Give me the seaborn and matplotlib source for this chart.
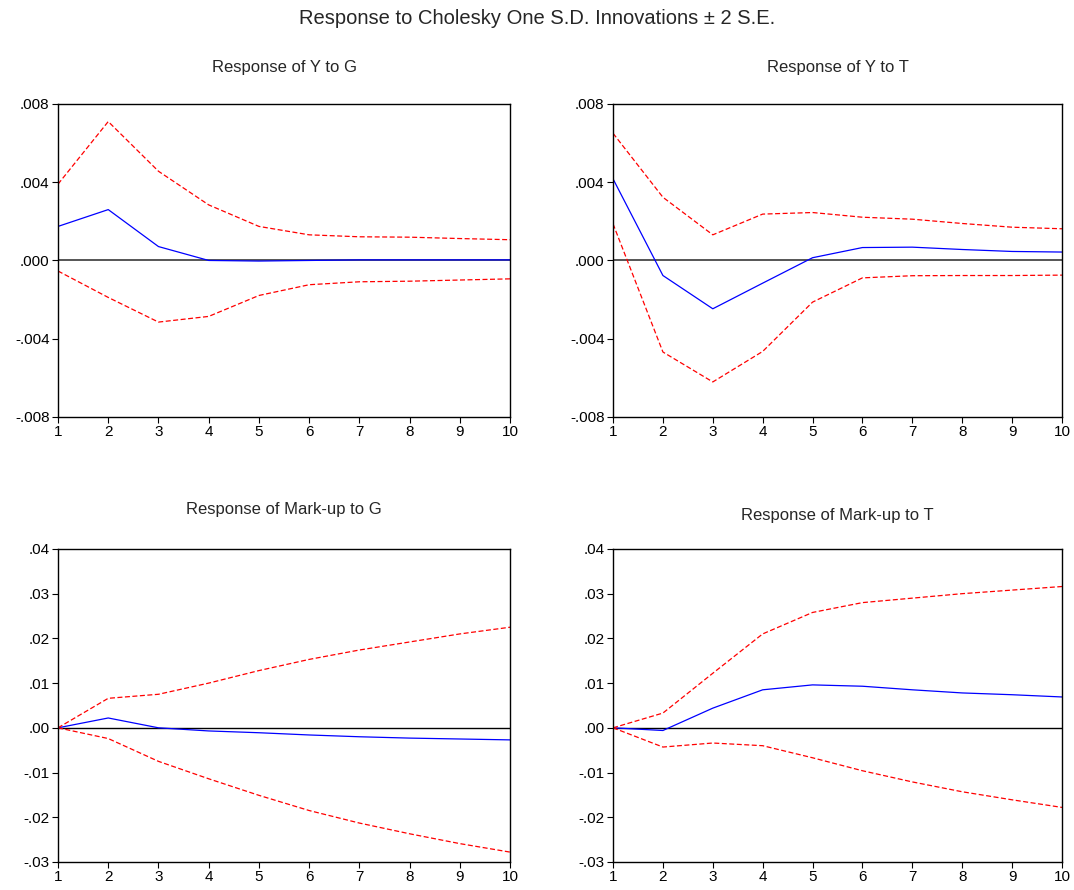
import matplotlib
matplotlib.use("Agg")
import matplotlib.pyplot as plt
from matplotlib import font_manager
from matplotlib.ticker import FuncFormatter
import pandas as pd
import seaborn as sns

# Impulse responses (periods 1..10)
periods = list(range(1, 11))

y_to_g = [0.00174, 0.0026, 0.00071, 0.0, -0.00003, 0.0, 0.00003, 0.00003, 0.00003, 0.00003]
y_to_g_upper = [0.0039, 0.0071, 0.00456, 0.00284, 0.00174, 0.00131, 0.00121, 0.00119, 0.00112, 0.00106]
y_to_g_lower = [-0.00054, -0.00189, -0.00315, -0.00286, -0.00179, -0.00124, -0.00109, -0.00106, -0.0010, -0.00094]

y_to_t = [0.00417, -0.00077, -0.00247, -0.00116, 0.00014, 0.00066, 0.00068, 0.00056, 0.00046, 0.00043]
y_to_t_upper = [0.0065, 0.00323, 0.00131, 0.00237, 0.00245, 0.00221, 0.00211, 0.00189, 0.0017, 0.00162]
y_to_t_lower = [0.00187, -0.00468, -0.00621, -0.00465, -0.00213, -0.00089, -0.00078, -0.00077, -0.00077, -0.00075]

mu_to_g = [0.0, 0.0022, 0.0, -0.0007, -0.0011, -0.0016, -0.0020, -0.0023, -0.0025, -0.0027]
mu_to_g_upper = [0.0, 0.0066, 0.0075, 0.0100, 0.0128, 0.0153, 0.0174, 0.0192, 0.0210, 0.0225]
mu_to_g_lower = [0.0, -0.0024, -0.0075, -0.0114, -0.0151, -0.0185, -0.0213, -0.0237, -0.0259, -0.0278]

mu_to_t = [0.0, -0.0006, 0.0044, 0.0085, 0.0096, 0.0093, 0.0085, 0.0078, 0.0074, 0.0069]
mu_to_t_upper = [0.0, 0.0033, 0.0122, 0.0210, 0.0258, 0.0280, 0.0290, 0.0300, 0.0308, 0.0316]
mu_to_t_lower = [0.0, -0.0043, -0.0034, -0.0040, -0.0067, -0.0096, -0.0121, -0.0143, -0.0161, -0.0178]

panel_titles = ["Response of Y to G", "Response of Y to T",
                "Response of Mark-up to G", "Response of Mark-up to T"]
y_ticks_small = [-0.008, -0.004, 0.0, 0.004, 0.008]
y_ticks_large = [-0.03, -0.02, -0.01, 0.0, 0.01, 0.02, 0.03, 0.04]

panels = [
    (y_to_g, y_to_g_upper, y_to_g_lower, y_ticks_small, 3),
    (y_to_t, y_to_t_upper, y_to_t_lower, y_ticks_small, 3),
    (mu_to_g, mu_to_g_upper, mu_to_g_lower, y_ticks_large, 2),
    (mu_to_t, mu_to_t_upper, mu_to_t_lower, y_ticks_large, 2),
]

sns.set_style("ticks")
installed = {f.name for f in font_manager.fontManager.ttflist}
family = "Liberation Sans Narrow" if "Liberation Sans Narrow" in installed else "Liberation Sans"
plt.rcParams["font.family"] = [family, "DejaVu Sans"]


def dot_fmt(digits):
    def fmt(v, pos):
        s = f"{v:.{digits}f}"
        if s.startswith("-0"):
            return "-" + s[2:]
        if s.startswith("0"):
            return s[1:]
        return s
    return FuncFormatter(fmt)


fig = plt.figure(figsize=(10.74, 8.9), dpi=100)
positions = [
    [0.054, 0.5315, 0.421, 0.3517],
    [0.5708, 0.5315, 0.418, 0.3517],
    [0.054, 0.0315, 0.421, 0.3517],
    [0.5708, 0.0315, 0.418, 0.3517],
]
title_pads = [23, 23, 25, 21]
zero_colors = ["#555555", "#555555", "black", "black"]
zero_widths = [1.4, 1.4, 1.0, 1.0]

for i, (resp, upper, lower, yticks, digits) in enumerate(panels):
    ax = fig.add_axes(positions[i])
    df = pd.DataFrame({
        "period": periods * 3,
        "value": resp + upper + lower,
        "series": ["resp"] * 10 + ["upper"] * 10 + ["lower"] * 10,
    })
    ax.axhline(0, color=zero_colors[i], lw=zero_widths[i], zorder=1)
    sns.lineplot(data=df, x="period", y="value", hue="series", style="series",
                 palette={"resp": "#0000ff", "upper": "#ff0000", "lower": "#ff0000"},
                 dashes={"resp": "", "upper": (4, 2), "lower": (4, 2)},
                 linewidth=0.9, legend=False, ax=ax)
    ax.set_xlim(1, 10)
    ax.set_xticks(periods)
    ax.set_ylim(yticks[0], yticks[-1])
    ax.set_yticks(yticks)
    ax.yaxis.set_major_formatter(dot_fmt(digits))
    ax.set_xlabel("")
    ax.set_ylabel("")
    ax.tick_params(direction="out", length=4, width=0.8, labelsize=11,
                   colors="black", pad=2)
    for sp in ax.spines.values():
        sp.set_visible(True)
        sp.set_color("black")
        sp.set_linewidth(1.0)
    ax.set_title(panel_titles[i], fontsize=12, pad=title_pads[i])

fig.suptitle("Response to Cholesky One S.D. Innovations \u00b1 2 S.E.", fontsize=14.5, y=0.99)
fig.savefig("out.png", dpi=100)
